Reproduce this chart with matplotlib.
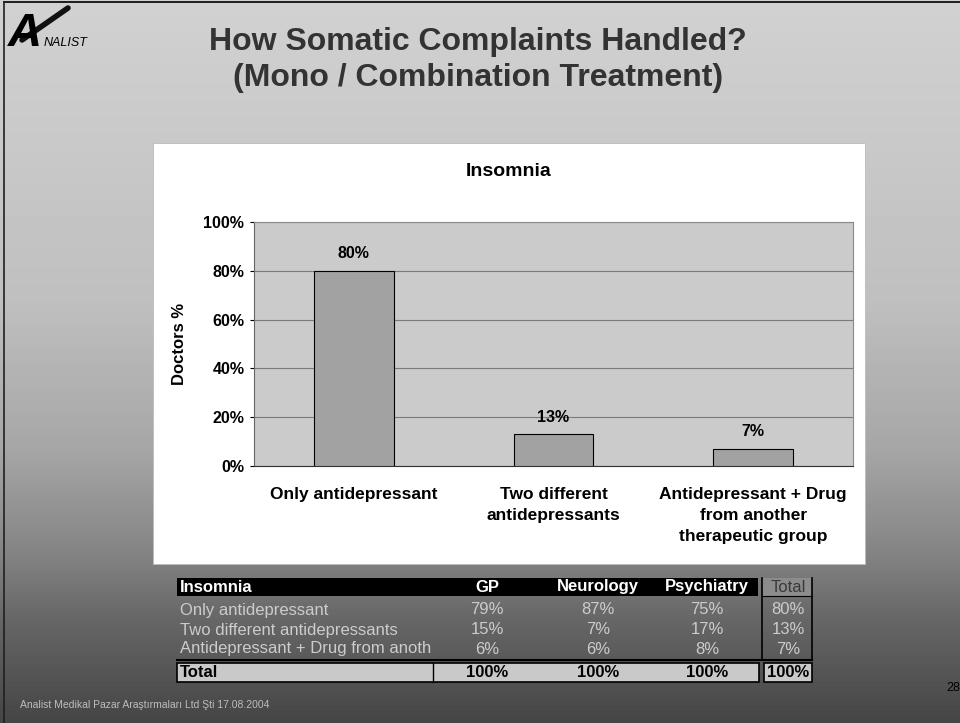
import matplotlib
matplotlib.use("Agg")
import matplotlib.pyplot as plt
import numpy as np
from matplotlib.patches import Rectangle

plt.rcParams['font.family'] = ['Liberation Sans', 'DejaVu Sans']

W, H = 960, 723

# chart data
categories = ["Only antidepressant", "Two different\nantidepressants",
              "Antidepressant + Drug\nfrom another\ntherapeutic group"]
doctors_pct = [80, 13, 7]
y_ticks = [0, 20, 40, 60, 80, 100]

# table data
table_cols = ["GP", "Neurology", "Psychiatry", "Total"]
table_rows = ["Only antidepressant", "Two different antidepressants",
              "Antidepressant + Drug from anoth"]
gp = ["79%", "15%", "6%"]
neurology = ["87%", "7%", "6%"]
psychiatry = ["75%", "17%", "8%"]
total = ["80%", "13%", "7%"]
total_row = ["100%", "100%", "100%", "100%"]


def px_rect(x0, y0, x1, y1):
    # pixel box (top-left origin) -> figure fraction rect
    return [x0 / W, 1 - y1 / H, (x1 - x0) / W, (y1 - y0) / H]


fig = plt.figure(figsize=(9.6, 7.23), dpi=100)

# slide background gradient
bg = fig.add_axes([0, 0, 1, 1])
rows = np.arange(H)
shade = np.interp(rows, [0, 300, 450, 550, 620, 723], [0.82, 0.75, 0.65, 0.52, 0.40, 0.27])
img = np.repeat(shade[:, None], 8, axis=1)
bg.imshow(img, cmap='gray', vmin=0, vmax=1, aspect='auto', extent=[0, W, H, 0])
bg.set_xlim(0, W)
bg.set_ylim(H, 0)
bg.axis('off')

# slide frame
bg.plot([4, W, W], [2, 2, 2], color='black', lw=1.2)
bg.plot([4, 4], [2, H], color='#202020', lw=1.2)

# logo
bg.text(8, 46, "A", fontsize=34, fontweight='bold', style='italic', color='black', ha='left', va='baseline')
bg.plot([22, 68], [40, 8], color='#111111', lw=4, solid_capstyle='round')
bg.text(44, 46, "NALIST", fontsize=9, style='italic', color='black', ha='left', va='baseline')

# slide title
bg.text(478, 42, "How Somatic Complaints Handled?", fontsize=23, fontweight='bold',
        color='#333333', ha='center', va='center')
bg.text(478, 78, "(Mono / Combination Treatment)", fontsize=23, fontweight='bold',
        color='#333333', ha='center', va='center')

# white chart panel
bg.add_patch(Rectangle((153, 143), 865 - 153, 564 - 143, facecolor='white', edgecolor='#bbbbbb', lw=0.6))
bg.text(509, 171, "Insomnia", fontsize=14, fontweight='bold', ha='center', va='center')

# bar chart
ax = fig.add_axes(px_rect(254, 222, 853, 466))
x = np.arange(len(categories))
ax.bar(x, doctors_pct, width=0.4, color='#a2a2a2', edgecolor='black', linewidth=0.8, zorder=3)
for xi, v in zip(x, doctors_pct):
    ax.text(xi, v + 4, f"{v}%", ha='center', va='bottom', fontsize=11.5, fontweight='bold')
ax.set_xlim(-0.5, 2.5)
ax.set_ylim(0, 100)
ax.set_facecolor('#cbcbcb')
ax.set_yticks(y_ticks)
ax.set_yticklabels([f"{t}%" for t in y_ticks], fontsize=11.5, fontweight='bold')
ax.yaxis.grid(True, color='#7a7a7a', lw=0.8, zorder=0)
ax.set_xticks(x)
ax.set_xticklabels(categories, fontsize=12.5, fontweight='bold', linespacing=1.5, va='top')
ax.tick_params(axis='x', length=0, pad=15)
ax.tick_params(axis='y', length=3, pad=4)
for s in ['top', 'right']:
    ax.spines[s].set_color('#8a8a8a')
ax.spines['left'].set_color('#666666')
ax.spines['bottom'].set_color('#333333')
ax.set_ylabel("Doctors %", fontsize=12, fontweight='bold', labelpad=12)

# table below chart
tl, tr, split, tot_l = 177, 812, 433, 762
col_x = [487, 598, 707, 788]
row_y = [610, 630, 649]

bg.add_patch(Rectangle((tl, 578), tot_l - 4 - tl, 18, facecolor='black', edgecolor='none'))
bg.text(tl + 3, 587, "Insomnia", color='white', fontsize=12, fontweight='bold', ha='left', va='center')
for cx, name in zip(col_x[:3], table_cols[:3]):
    bg.text(cx, 587, name, color='white', fontsize=12, fontweight='bold', ha='center', va='center')
bg.add_patch(Rectangle((tot_l, 578), tr - tot_l, 18, facecolor='#8c8c8c', edgecolor='none'))
bg.text(col_x[3], 587, table_cols[3], color='#3a3a3a', fontsize=12, ha='center', va='center')

values = [gp, neurology, psychiatry, total]
for i, (label, ry) in enumerate(zip(table_rows, row_y)):
    bg.text(tl + 3, ry, label, color='#cccccc', fontsize=12, ha='left', va='center')
    for cx, col in zip(col_x, values):
        bg.text(cx, ry, col[i], color='#cccccc', fontsize=12, ha='center', va='center')

# total column borders
bg.plot([tot_l, tot_l], [578, 660], color='black', lw=1.2)
bg.plot([tr, tr], [578, 660], color='black', lw=1.2)
bg.plot([tot_l, tr], [596, 596], color='black', lw=0.8)
bg.plot([tl, tr], [660, 660], color='black', lw=1.5)

# total row
bg.add_patch(Rectangle((tl, 663), tot_l - 3 - tl, 19, facecolor='#c9c9c9', edgecolor='black', lw=1.2))
bg.plot([split, split], [663, 682], color='black', lw=1)
bg.add_patch(Rectangle((tot_l + 2, 663), tr - tot_l - 2, 19, facecolor='#c9c9c9', edgecolor='black', lw=1.2))
bg.text(tl + 3, 672.5, "Total", color='black', fontsize=12, fontweight='bold', ha='left', va='center')
for cx, v in zip(col_x, total_row):
    bg.text(cx, 672.5, v, color='black', fontsize=12, fontweight='bold', ha='center', va='center')

# footer
bg.text(20, 705, "Analist Medikal Pazar Araştırmaları Ltd Şti 17.08.2004", color='#bdbdbd',
        fontsize=7.5, ha='left', va='center')
bg.text(946, 688, "28", color='black', fontsize=9, ha='left', va='center')

fig.savefig("out.png", dpi=100)
